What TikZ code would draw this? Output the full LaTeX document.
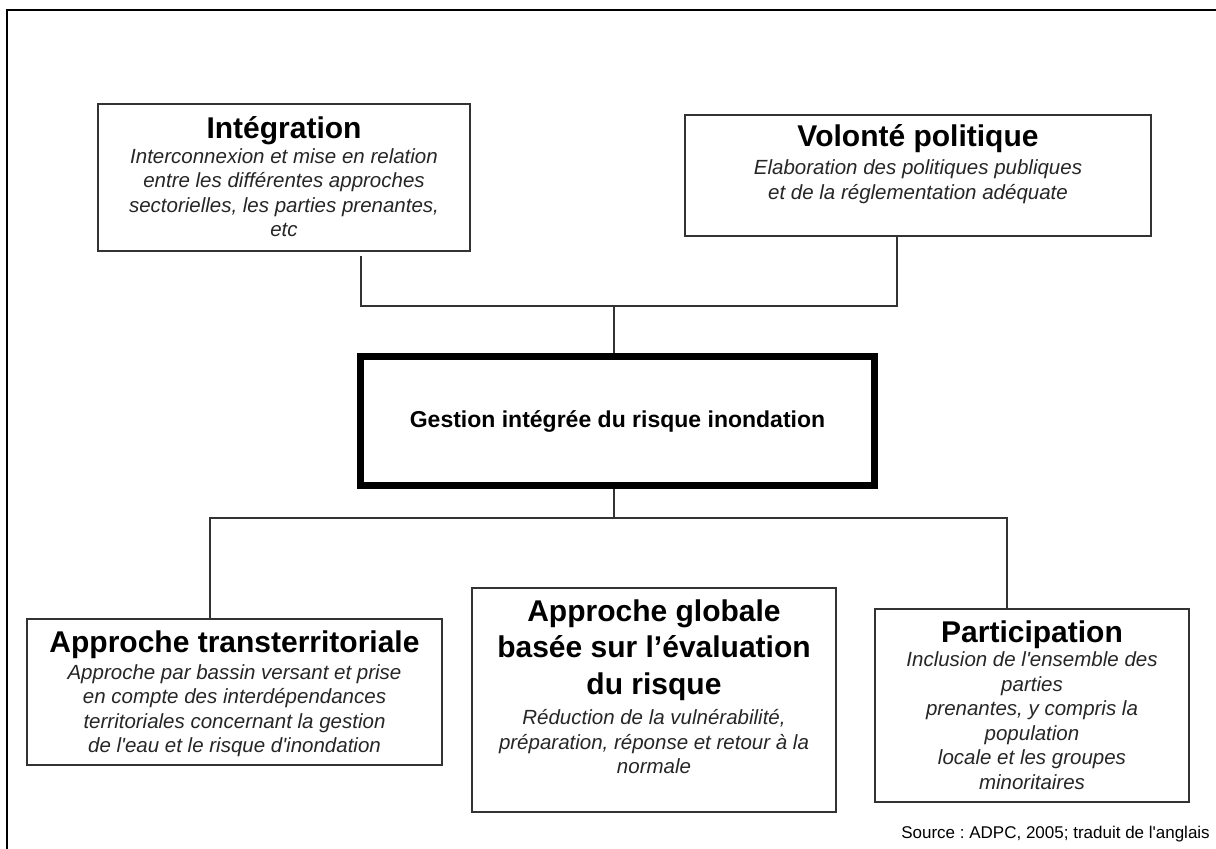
\documentclass[tikz,border=0pt]{standalone}
\usepackage{fontspec}
\setmainfont{Liberation Sans}[Ligatures=TeXOff]
\usetikzlibrary{
    positioning
}
\frenchspacing
\newcommand{\serre}{\lineskiplimit=-1000pt\relax}
\tikzset{
    frame/.style={draw=black, line width=2.5pt},
    box/.style={
        draw=black!80,
        line width=1.5pt,
        inner sep=0pt
    },
    mainbox/.style={
        draw=black,
        line width=6.5pt,
        inner sep=0pt,
        font=\fontsize{23}{28}\selectfont\bfseries
    },
    boxtext/.style={
        inner sep=0pt,
        align=center,
        font=\fontsize{20.5}{24.5}\selectfont\serre
    },
    link/.style={draw=black!80, line width=1.5pt}
}
\newcommand{\titre}[1]{{\fontsize{30}{36}\selectfont\bfseries #1}}
\newcommand{\corps}[1]{{\itshape\color{black!85}#1}}

\begin{document}
\frenchspacing
\begin{tikzpicture}[
    x=1pt,
    y=-1pt
]

    \useasboundingbox[fill=white] (0,0) rectangle (1216,849);

    % Cadre
    \draw[frame] (7,860) -- (7,10) -- (1230,10);

    % Cases du haut
    \node[box, minimum width=372, minimum height=147] (integ)   at (284,177.5)  {};
    \node[box, minimum width=466, minimum height=121] (volonte) at (918,175.5)  {};

    % Case centrale
    \node[mainbox, minimum width=514, minimum height=129] (gestion) at (617.5,421)
        {Gestion intégrée du risque inondation};

    % Cases du bas
    \node[box, minimum width=415, minimum height=146] (trans)   at (234.5,692)  {};
    \node[box, minimum width=364, minimum height=224] (globale) at (654,700)    {};
    \node[box, minimum width=314, minimum height=193] (partic)  at (1032,705.5) {};

    % Textes
    \node[boxtext, below=13pt of integ.north] (integtxt) {
        \titre{Intégration}\\[0.5pt]
        \corps{Interconnexion et mise en relation}\\
        \corps{entre les différentes approches}\\
        \corps{sectorielles, les parties prenantes,}\\
        \corps{etc}};

    \node[boxtext, below=10pt of volonte.north] (volontetxt) {
        \titre{Volonté politique}\\[4pt]
        \corps{Elaboration des politiques publiques}\\
        \corps{et de la réglementation adéquate}};

    \node[boxtext, below=12pt of trans.north] (transtxt) {
        \titre{Approche transterritoriale}\\[2.5pt]
        \corps{Approche par bassin versant et prise}\\
        \corps{en compte des interdépendances}\\
        \corps{territoriales concernant la gestion}\\
        \corps{de l'eau et le risque d'inondation}};

    \node[boxtext, below=12pt of globale.north] (globaletxt) {
        \titre{Approche globale}\\[12pt]
        \titre{basée sur l’évaluation}\\[12pt]
        \titre{du risque}\\[6pt]
        \corps{Réduction de la vulnérabilité,}\\
        \corps{préparation, réponse et retour à la}\\
        \corps{normale}};

    \node[boxtext, below=12pt of partic.north] (partictxt) {
        \titre{Participation}\\
        \corps{Inclusion de l'ensemble des}\\
        \corps{parties}\\
        \corps{prenantes, y compris la}\\
        \corps{population}\\
        \corps{locale et les groupes}\\
        \corps{minoritaires}};

    \node[anchor=base east, inner sep=0pt, font=\fontsize{17}{20}\selectfont]
        (source) at (1210,838) {Source : ADPC, 2005; traduit de l'anglais};

    % Liaisons
    \coordinate (jhaut) at (614,306);
    \coordinate (jbas)  at (614,518);

    \draw[link] ([xshift=77pt, yshift=-4pt]integ.south) |- (jhaut) -| ([xshift=-21pt]volonte.south);
    \draw[link] (jhaut) -- (gestion.north -| jhaut);
    \draw[link] (gestion.south -| jbas) -- (jbas);
    \draw[link] ([xshift=-24.5pt]trans.north) |- (jbas) -| ([xshift=-25pt]partic.north);

\end{tikzpicture}
\end{document}
